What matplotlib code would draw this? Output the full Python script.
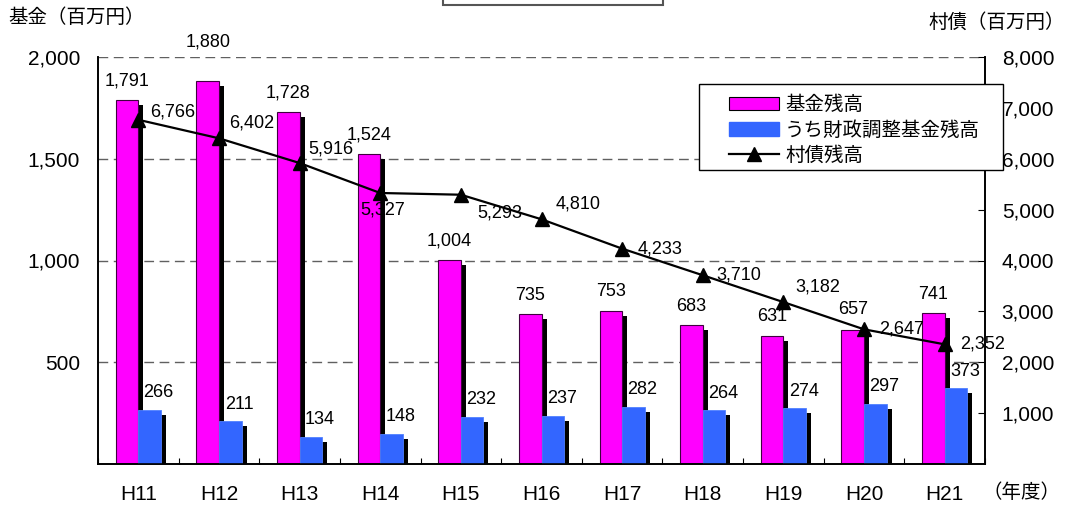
import matplotlib
matplotlib.use("Agg")
import matplotlib.pyplot as plt
import matplotlib.patheffects as pe
from matplotlib.patches import Patch, Rectangle
from matplotlib.lines import Line2D
from matplotlib.ticker import FixedLocator, FuncFormatter
import numpy as np

plt.rcParams['font.family'] = ['Liberation Sans', 'Noto Sans CJK JP', 'DejaVu Sans']

# data
years = ["H11", "H12", "H13", "H14", "H15", "H16", "H17", "H18", "H19", "H20", "H21"]
fund_total = [1791, 1880, 1728, 1524, 1004, 735, 753, 683, 631, 657, 741]
fund_adjust = [266, 211, 134, 148, 232, 237, 282, 264, 274, 297, 373]
village_debt = [6766, 6402, 5916, 5327, 5293, 4810, 4233, 3710, 3182, 2647, 2352]

labels = ["基金残高", "うち財政調整基金残高", "村債残高"]

# label placement (pixels, right / down) for the debt line
PX = 72 / 100
line_lbl_off = [(34, -8), (33, -15), (31, -14), (2, 17), (39, 18), (37, -15),
                (38, 0), (36, 0), (34, -15), (38, 0), (38, 0)]
pink_lbl_up = [19, 39, 19, 19, 19, 19, 19, 19, 19, 21, 19]

PINK = "#FF00FF"
BLUE = "#3366FF"
LBL = 13

fig = plt.figure(figsize=(10.7, 5.11), dpi=100)
ax = fig.add_axes([98 / 1070, 1 - 464 / 511, (985 - 98) / 1070, (464 - 57) / 511])
ax2 = ax.twinx()

x = np.arange(len(years))
w = 0.28
shadow = [pe.SimplePatchShadow(offset=(5 * PX, -5 * PX), shadow_rgbFace="black", alpha=1.0), pe.Normal()]

b1 = ax.bar(x - w / 2, fund_total, w, color=PINK, edgecolor="#400040", linewidth=0.8, zorder=2)
b2 = ax.bar(x + w / 2, fund_adjust, w, color=BLUE, edgecolor="#5080ff", linewidth=0.6, zorder=3)
for b in list(b1) + list(b2):
    b.set_path_effects(shadow)

for i, v in enumerate(fund_total):
    ax.annotate(f"{v:,}", (x[i] - w / 2, v), xytext=(0, pink_lbl_up[i] * PX), textcoords="offset points",
                ha="center", va="center", fontsize=LBL, zorder=6)
for i, v in enumerate(fund_adjust):
    ax.annotate(f"{v:,}", (x[i] + w / 2, v), xytext=(9 * PX, 17 * PX), textcoords="offset points",
                ha="center", va="center", fontsize=LBL, zorder=6)

ax.set_xlim(-0.5, len(years) - 0.5)
ax.set_ylim(0, 2000)
ax2.set_ylim(0, 8000)

ax.set_xticks(x)
ax.set_xticklabels(years, fontsize=15)
ax.xaxis.set_minor_locator(FixedLocator(np.arange(-0.5, len(years), 1.0)))
ax.tick_params(axis="x", which="major", length=0, pad=15)
ax.tick_params(axis="x", which="minor", direction="in", length=4, width=0.8)

comma = FuncFormatter(lambda v, p: f"{int(v):,}")
ax.set_yticks([500, 1000, 1500, 2000])
ax.yaxis.set_major_formatter(comma)
ax.tick_params(axis="y", length=0, pad=13, labelsize=15)

ax2.set_yticks([1000, 2000, 3000, 4000, 5000, 6000, 7000, 8000])
ax2.yaxis.set_major_formatter(comma)
ax2.tick_params(axis="y", direction="in", length=5, width=0.8, pad=12, labelsize=15)

ax.yaxis.grid(True, color="#606060", linewidth=1.0, linestyle=(0, (7, 4)))
ax.set_axisbelow(True)
for a in (ax, ax2):
    a.spines["top"].set_visible(False)
    for s in ("left", "right", "bottom"):
        a.spines[s].set_linewidth(1.2)

ax2.plot(x, village_debt, color="black", linewidth=1.6, marker="^", markersize=10, zorder=5)
for i, v in enumerate(village_debt):
    dx, dy = line_lbl_off[i]
    ax2.annotate(f"{v:,}", (x[i], v), xytext=(dx * PX, -dy * PX), textcoords="offset points",
                 ha="center", va="center", fontsize=LBL, zorder=6)

# axis titles
fig.text(8 / 1070, 1 - 18 / 511, "基金（百万円）", fontsize=14, ha="left", va="center")
fig.text(1065 / 1070, 1 - 22 / 511, "村債（百万円）", fontsize=14, ha="right", va="center")
fig.text(982 / 1070, 1 - 493 / 511, "（年度）", fontsize=14, ha="left", va="center")

# empty title box cut by the top edge
fig.patches.append(Rectangle((443 / 1070, 1 - 5 / 511), 220 / 1070, 0.1, transform=fig.transFigure,
                             facecolor="white", edgecolor="#555555", linewidth=1.5, zorder=1))

# legend frame and entries
fig.patches.append(Rectangle((699 / 1070, 1 - 170 / 511), 304 / 1070, 86 / 511, transform=fig.transFigure,
                             facecolor="white", edgecolor="black", linewidth=1.0, zorder=4))
handles = [Patch(facecolor=PINK, edgecolor="black", linewidth=0.8),
           Patch(facecolor=BLUE, edgecolor=BLUE),
           Line2D([], [], color="black", linewidth=1.6, marker="^", markersize=10)]
leg = fig.legend(handles, labels, loc="upper left", bbox_to_anchor=(719 / 1070, 1 - 86 / 511),
                 frameon=False, fontsize=14, borderpad=0, handlelength=2.6, handletextpad=0.3,
                 labelspacing=0.35)
leg.set_zorder(5)

fig.savefig("out.png", dpi=100)
